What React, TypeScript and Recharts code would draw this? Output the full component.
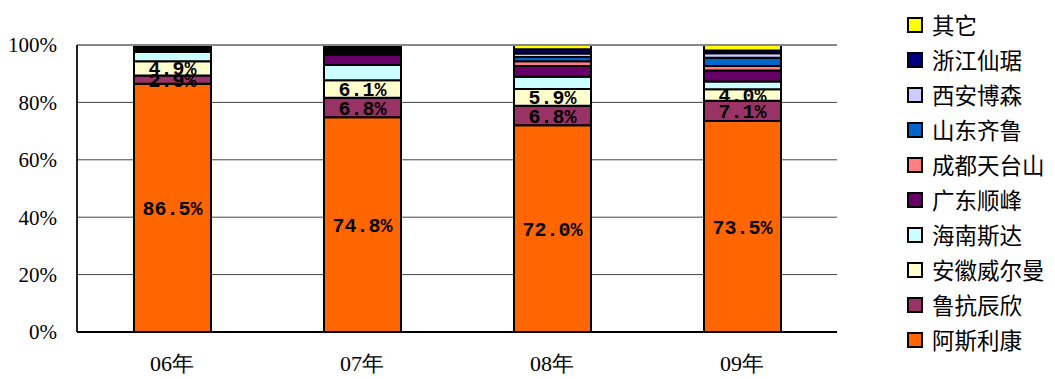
import React from 'react';
import { BarChart, Bar, XAxis, YAxis, CartesianGrid, LabelList, ReferenceLine } from 'recharts';

const categories = ['06年', '07年', '08年', '09年'];
const astrazeneca = [86.5, 74.8, 72.0, 73.5];
const lukang = [2.9, 6.8, 6.8, 7.1];
const anhui = [4.9, 6.1, 5.9, 4.0];
const hainan = [3.3, 5.3, 4.2, 2.7];
const guangdong = [0.4, 3.7, 3.8, 3.8];
const chengdu = [0.4, 0.7, 1.6, 1.6];
const shandong = [0.4, 0.7, 1.5, 2.9];
const xian = [0.4, 0.7, 1.2, 1.5];
const zhejiang = [0.4, 0.6, 1.5, 1.0];
const other = [0.4, 0.6, 1.5, 1.9];
const yTicks = [0, 20, 40, 60, 80, 100];

const seriesDefs = [
  { key: '阿斯利康', values: astrazeneca, color: '#FF6600', label: true },
  { key: '鲁抗辰欣', values: lukang, color: '#993366', label: true },
  { key: '安徽威尔曼', values: anhui, color: '#FFFFCC', label: true },
  { key: '海南斯达', values: hainan, color: '#CCFFFF', label: false },
  { key: '广东顺峰', values: guangdong, color: '#660066', label: false },
  { key: '成都天台山', values: chengdu, color: '#FF8080', label: false },
  { key: '山东齐鲁', values: shandong, color: '#0066CC', label: false },
  { key: '西安博森', values: xian, color: '#CCCCFF', label: false },
  { key: '浙江仙琚', values: zhejiang, color: '#000080', label: false },
  { key: '其它', values: other, color: '#FFFF00', label: false },
];

const data = categories.map((c, i) => {
  const row: Record<string, string | number> = { name: c };
  seriesDefs.forEach((s) => {
    row[s.key] = s.values[i];
  });
  return row;
});

const legendItems = [...seriesDefs].reverse();

export default function App() {
  return (
    <div style={{ position: 'relative', width: 1055, height: 379 }}>
      <style>{'body{margin:0;background:#fff;}'}</style>
      <BarChart
        width={1055}
        height={379}
        data={data}
        margin={{ top: 45, right: 218, bottom: 17, left: 0 }}
      >
        <CartesianGrid horizontal vertical={false} stroke="#444" strokeWidth={1} />
        <XAxis
          dataKey="name"
          height={30}
          axisLine={{ stroke: '#000', strokeWidth: 2 }}
          tickLine={false}
          tickSize={0}
          tickMargin={23}
          tick={{ fill: '#000', fontSize: 22, fontFamily: '"Liberation Serif", serif' }}
        />
        <YAxis
          width={77}
          domain={[0, 100]}
          ticks={yTicks}
          interval={0}
          axisLine={{ stroke: '#222', strokeWidth: 2 }}
          tickLine={false}
          tickSize={0}
          tickMargin={20}
          tickFormatter={(v: number) => `${v}%`}
          tick={{ fill: '#000', fontSize: 21, fontFamily: '"Liberation Serif", serif' }}
        />
        <YAxis
          yAxisId="right"
          orientation="right"
          width={0}
          domain={[0, 100]}
          axisLine={{ stroke: '#888', strokeWidth: 2 }}
          tickLine={false}
          tick={false}
        />
        <ReferenceLine y={100} stroke="#888" strokeWidth={2} />
        {seriesDefs.map((s) => (
          <Bar
            key={s.key}
            dataKey={s.key}
            stackId="a"
            fill={s.color}
            stroke="#000"
            strokeWidth={2}
            barSize={77}
            isAnimationActive={false}
          >
            {s.label && (
              <LabelList
                dataKey={s.key}
                position="center"
                formatter={(v: any) => `${Number(v).toFixed(1)}%`}
                style={{
                  fill: '#000',
                  fontSize: 20,
                  fontWeight: 'bold',
                  fontFamily: '"Liberation Mono", monospace',
                }}
              />
            )}
          </Bar>
        ))}
      </BarChart>
      <div style={{ position: 'absolute', left: 907, top: 7, width: 148 }}>
        {legendItems.map((it) => (
          <div key={it.key} style={{ display: 'flex', alignItems: 'center', height: 35 }}>
            <span
              style={{
                display: 'inline-block',
                width: 12,
                height: 12,
                background: it.color,
                border: '2px solid #000',
                marginRight: 9,
              }}
            />
            <span
              style={{
                fontFamily: '"Noto Sans CJK SC", sans-serif',
                fontSize: 22.5,
                color: '#000',
                lineHeight: '35px',
                whiteSpace: 'nowrap',
              }}
            >
              {it.key}
            </span>
          </div>
        ))}
      </div>
    </div>
  );
}
